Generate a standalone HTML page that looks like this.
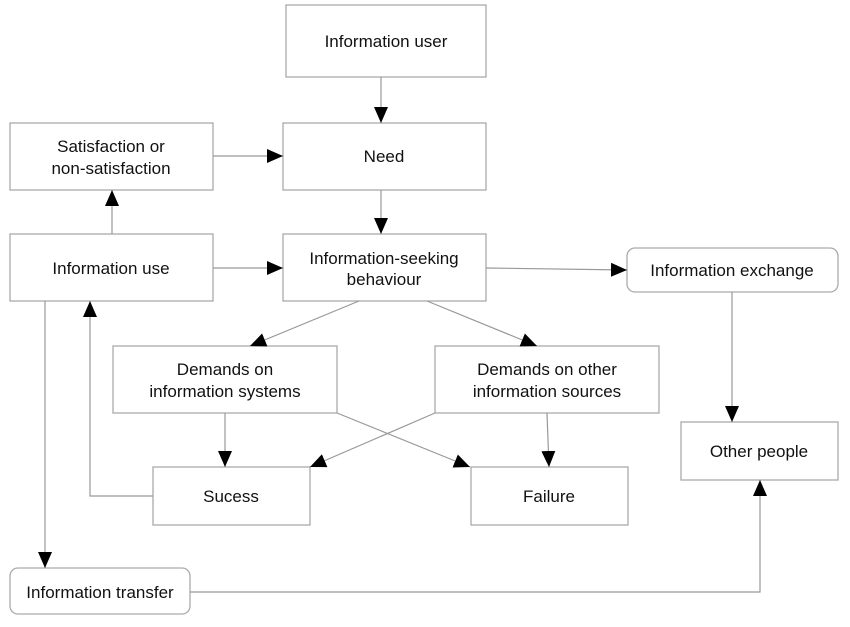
<!DOCTYPE html><html><head><style>body{margin:0;background:#fff}svg{display:block}text{font-family:"Liberation Sans",sans-serif;font-size:17px;fill:#111;text-anchor:middle}</style></head><body>
<svg width="850" height="627" viewBox="0 0 850 627">
<defs><marker id="a" markerWidth="16" markerHeight="14" refX="16" refY="7" orient="auto" markerUnits="userSpaceOnUse"><path d="M0,0L16,7L0,14z" fill="#000"/></marker></defs>
<g fill="#fff" stroke="#aaa" stroke-width="1.3">
<rect x="286" y="5" width="200" height="72"/>
<rect x="283" y="123" width="203" height="67"/>
<rect x="10" y="123" width="203" height="67"/>
<rect x="10" y="234" width="203" height="67"/>
<rect x="283" y="234" width="203" height="67"/>
<rect x="627" y="248" width="211" height="44" rx="8"/>
<rect x="113" y="346" width="224" height="67"/>
<rect x="435" y="346" width="224" height="67"/>
<rect x="681" y="422" width="157" height="58"/>
<rect x="153" y="467" width="157" height="58"/>
<rect x="471" y="467" width="157" height="58"/>
<rect x="10" y="568" width="180" height="46" rx="8"/>
</g>
<g stroke="#999" stroke-width="1.2" fill="none" marker-end="url(#a)">
<line x1="381" y1="77" x2="381" y2="123"/>
<line x1="213" y1="156" x2="283" y2="156"/>
<line x1="381" y1="190" x2="381" y2="234"/>
<line x1="112" y1="234" x2="112" y2="190"/>
<line x1="213" y1="268" x2="283" y2="268"/>
<line x1="486" y1="268" x2="627" y2="270"/>
<line x1="359" y1="301" x2="250" y2="346"/>
<line x1="427" y1="301" x2="537" y2="346"/>
<line x1="225" y1="413" x2="225" y2="467"/>
<line x1="547" y1="413" x2="549" y2="467"/>
<line x1="337" y1="413" x2="470" y2="467"/>
<line x1="435" y1="413" x2="310" y2="467"/>
<polyline points="153,496 90,496 90,301"/>
<polyline points="45,301 45,568"/>
<line x1="732" y1="292" x2="732" y2="422"/>
<polyline points="190,592 760,592 760,480"/>
</g>
<text x="386" y="47">Information user</text>
<text x="384" y="162">Need</text>
<text x="111" y="152">Satisfaction or</text>
<text x="111" y="174">non-satisfaction</text>
<text x="111" y="274">Information use</text>
<text x="384" y="264">Information-seeking</text>
<text x="384" y="285">behaviour</text>
<text x="732" y="276">Information exchange</text>
<text x="225" y="375">Demands on</text>
<text x="225" y="397">information systems</text>
<text x="547" y="375">Demands on other</text>
<text x="547" y="397">information sources</text>
<text x="759" y="457">Other people</text>
<text x="231" y="502">Sucess</text>
<text x="549" y="502">Failure</text>
<text x="100" y="598">Information transfer</text>
</svg></body></html>
